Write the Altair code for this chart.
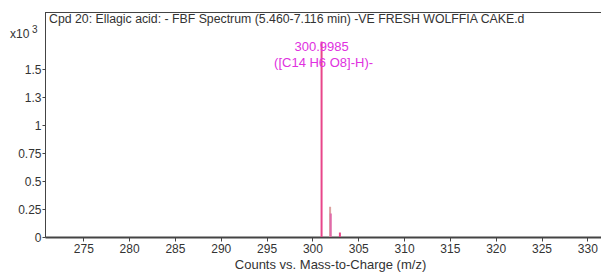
import altair as alt
import pandas as pd

# data (x in m/z, y in counts x10^3)
mz = [300.9985, 301.93, 302.0, 303.0]
counts = [1.746, 0.27, 0.21, 0.04]
colors = ["#e8468a", "#dca2a0", "#e06aa8", "#e8468a"]

x_ticks = [275, 280, 285, 290, 295, 300, 305, 310, 315, 320, 325, 330]
y_ticks = [0, 0.25, 0.5, 0.75, 1, 1.25, 1.5]

label_mz = [300.9985, 300.9985]
label_y = [1.746, 1.746]
label_text = ["300.9985", "([C14 H6 O8]-H)-"]

title_text = "Cpd 20: Ellagic acid: - FBF Spectrum (5.460-7.116 min) -VE FRESH WOLFFIA CAKE.d"

X_DOM = [270.82, 331.49]
Y_DOM = [0, 2.01]

peaks = pd.DataFrame({"mz": mz, "counts": counts, "color": colors})
labels = pd.DataFrame({"mz": label_mz, "counts": label_y, "text": label_text})

FONT = "Liberation Sans"
W, H = 556, 225

xs = alt.Scale(domain=X_DOM, nice=False, zero=False)
ys = alt.Scale(domain=Y_DOM, nice=False)

xaxis = alt.Axis(
    values=x_ticks, title="Counts vs. Mass-to-Charge (m/z)", grid=False,
    domainColor="#444", domainWidth=2, tickColor="#444", tickSize=4,
    labelPadding=2, labelFontSize=12, labelColor="#333", labelFont=FONT,
    labelOverlap=False,
    titleFont=FONT, titleFontSize=13, titleFontWeight="normal", titleColor="#333",
    titlePadding=4, titleX=285)
yaxis = alt.Axis(
    values=y_ticks, format="~g", title=None, grid=False,
    domainColor="#444", domainWidth=1, tickColor="#444", tickSize=3,
    labelPadding=1, labelFontSize=12, labelColor="#333", labelFont=FONT,
    labelOverlap=False)

X = alt.X("mz:Q", scale=xs, axis=xaxis, title="Counts vs. Mass-to-Charge (m/z)")
Y = alt.Y("counts:Q", scale=ys, axis=yaxis, title=None)

bars = alt.Chart(peaks).mark_rule(strokeWidth=2).encode(
    x=X, y=Y, y2=alt.datum(0),
    color=alt.Color("color:N", scale=None),
)

lbl1 = alt.Chart(labels.iloc[[0]]).mark_text(
    font=FONT, fontSize=13, color="#e030e0", baseline="middle", align="center", dy=5
).encode(x=X, y=Y, text="text:N")

lbl2 = alt.Chart(labels.iloc[[1]]).mark_text(
    font=FONT, fontSize=13, color="#e030e0", baseline="middle", align="center", dy=21, dx=2
).encode(x=X, y=Y, text="text:N")

top_line = alt.Chart(pd.DataFrame({"a": [0]})).mark_rule(color="#444", strokeWidth=1).encode(
    x=alt.value(0), x2=alt.value(W), y=alt.value(0.5)
)

title = alt.Chart(pd.DataFrame({"t": [title_text]})).mark_text(
    font=FONT, fontSize=12.3, color="#333", align="left", baseline="middle"
).encode(x=alt.value(4), y=alt.value(7), text="t:N")

x10 = alt.Chart(pd.DataFrame({"t": ["x10"]})).mark_text(
    font=FONT, fontSize=12, color="#333", align="left", baseline="middle"
).encode(x=alt.value(-35), y=alt.value(22), text="t:N")

sup = alt.Chart(pd.DataFrame({"t": ["3"]})).mark_text(
    font=FONT, fontSize=10, color="#333", align="left", baseline="middle"
).encode(x=alt.value(-13), y=alt.value(18), text="t:N")

chart = alt.layer(bars, lbl1, lbl2, top_line, title, x10, sup).properties(
    width=W, height=H,
    autosize=alt.AutoSizeParams(type="none"),
    padding={"left": 37, "top": 4, "right": 0, "bottom": 37},
).configure_view(stroke=None)

chart.save("out.html", embed_options={"renderer": "svg", "actions": False})
